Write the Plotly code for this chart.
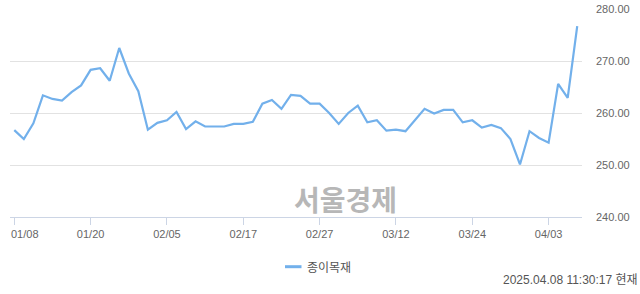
import plotly.graph_objects as go

dates = [
    "2025-01-08", "2025-01-09", "2025-01-10", "2025-01-13", "2025-01-14", "2025-01-15", "2025-01-16",
    "2025-01-17", "2025-01-20", "2025-01-21", "2025-01-22", "2025-01-23", "2025-01-24", "2025-01-31",
    "2025-02-03", "2025-02-04", "2025-02-05", "2025-02-06", "2025-02-07", "2025-02-10", "2025-02-11",
    "2025-02-12", "2025-02-13", "2025-02-14", "2025-02-17", "2025-02-18", "2025-02-19", "2025-02-20",
    "2025-02-21", "2025-02-24", "2025-02-25", "2025-02-26", "2025-02-27", "2025-02-28",
    "2025-03-04", "2025-03-05", "2025-03-06", "2025-03-07", "2025-03-10", "2025-03-11", "2025-03-12",
    "2025-03-13", "2025-03-14", "2025-03-17", "2025-03-18", "2025-03-19", "2025-03-20", "2025-03-21",
    "2025-03-24", "2025-03-25", "2025-03-26", "2025-03-27", "2025-03-28", "2025-03-31",
    "2025-04-01", "2025-04-02", "2025-04-03", "2025-04-04", "2025-04-07", "2025-04-08",
]

values = [
    256.7, 255.0, 258.0, 263.4, 262.7, 262.4, 264.0, 265.3, 268.3, 268.6,
    266.2, 272.5, 267.6, 264.2, 256.8, 258.1, 258.6, 260.2, 256.9, 258.4,
    257.4, 257.4, 257.4, 257.9, 257.9, 258.3, 261.8, 262.5, 260.8, 263.5,
    263.3, 261.8, 261.8, 260.0, 257.9, 260.0, 261.4, 258.2, 258.6, 256.6,
    256.8, 256.5, 258.7, 260.8, 259.9, 260.6, 260.6, 258.2, 258.6, 257.2,
    257.7, 257.1, 255.0, 250.1, 256.5, 255.2, 254.3, 265.6, 262.9, 276.7,
]

tick_dates = ["2025-01-08", "2025-01-20", "2025-02-05", "2025-02-17",
              "2025-02-27", "2025-03-12", "2025-03-24", "2025-04-03"]
tick_labels = ["01/08", "01/20", "02/05", "02/17", "02/27", "03/12", "03/24", "04/03"]

y_ticks = [240, 250, 260, 270, 280]

series_name = "종이목재"
timestamp = "2025.04.08 11:30:17 현재"
watermark = "서울경제"

LINE_COLOR = "#72b0eb"
FONT = "Liberation Sans, Noto Sans CJK KR, sans-serif"
KFONT = "Noto Sans CJK KR, Liberation Sans, sans-serif"

# the first label is drawn separately, nudged right so it stays inside the chart
shown_labels = [""] + tick_labels[1:]

fig = go.Figure()
fig.add_trace(go.Scatter(
    x=dates, y=values, mode="lines", name=series_name,
    line=dict(color=LINE_COLOR, width=2.2),
    showlegend=False,
))

fig.update_layout(
    width=640, height=294,
    margin=dict(l=10, r=58, t=9, b=77, autoexpand=False),
    paper_bgcolor="white", plot_bgcolor="white",
    font=dict(family=FONT, size=11, color="#666666"),
    xaxis=dict(
        type="category", automargin=False,
        categoryorder="array", categoryarray=dates,
        range=[-0.45, len(dates) - 0.5],
        tickmode="array", tickvals=tick_dates, ticktext=shown_labels,
        showgrid=False, zeroline=False,
        showline=True, linecolor="#ccd5e5", linewidth=1,
        ticks="outside", ticklen=7, tickcolor="#ccd5e5", tickwidth=1,
        tickfont=dict(size=11, color="#666666"),
    ),
    yaxis=dict(
        side="right", automargin=False,
        range=[240, 280],
        tickmode="array", tickvals=y_ticks,
        tickformat=".2f",
        showgrid=True, gridcolor="#e2e2e2", gridwidth=1,
        zeroline=False, showline=False, ticks="",
        ticklabelstandoff=13,
        tickfont=dict(size=11, color="#666666"),
    ),
    showlegend=False,
)

# first x tick label
fig.add_annotation(
    x=tick_dates[0], y=0, xref="x", yref="paper",
    text=tick_labels[0], showarrow=False,
    xanchor="left", yanchor="top", xshift=-5, yshift=-9,
    font=dict(family=FONT, size=11, color="#666666"),
)

# watermark
fig.add_annotation(
    x=(345.5 - 10) / 572, y=(217 - 199) / 208, xref="paper", yref="paper",
    text="<b>" + watermark + "</b>", showarrow=False,
    xanchor="center", yanchor="middle",
    font=dict(family=KFONT, size=28, color="#b7b7b7"),
)

# legend (manual)
fig.add_shape(
    type="line", xref="paper", yref="paper",
    x0=(285 - 10) / 572, x1=(301.5 - 10) / 572,
    y0=(217 - 266.7) / 208, y1=(217 - 266.7) / 208,
    line=dict(color=LINE_COLOR, width=3),
)
fig.add_annotation(
    x=(305 - 10) / 572, y=(217 - 266.7) / 208, xref="paper", yref="paper",
    text=series_name, showarrow=False, xanchor="left", yanchor="middle",
    font=dict(family=KFONT, size=12, color="#555555"),
)

# timestamp
fig.add_annotation(
    x=(640 - 10) / 572, y=(217 - 279.5) / 208, xref="paper", yref="paper",
    text=timestamp, showarrow=False, xanchor="right", yanchor="middle",
    font=dict(family=FONT, size=12, color="#555555"),
)

fig.write_html("out.html")
